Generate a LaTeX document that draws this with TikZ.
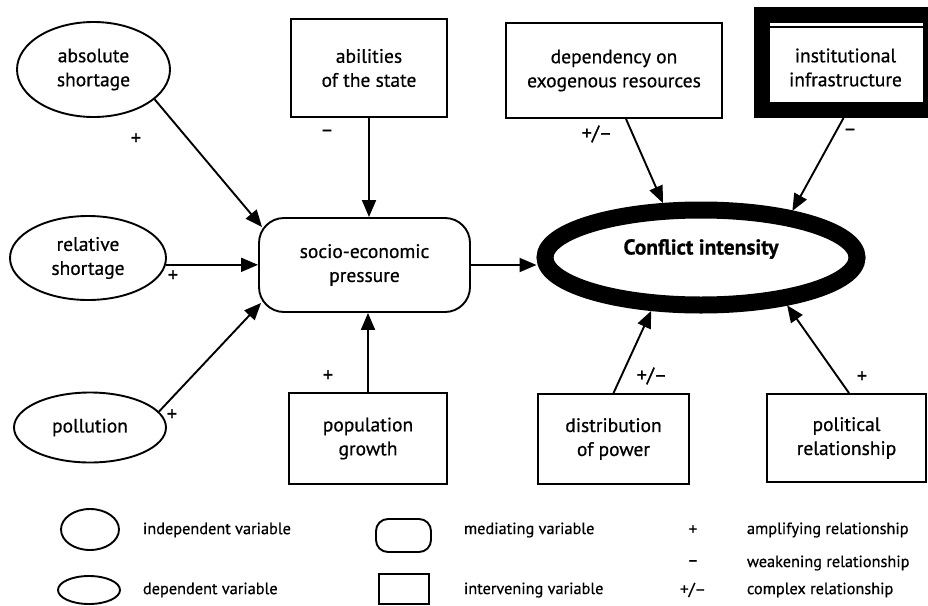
\documentclass[tikz,border=0pt]{standalone}
\usepackage{fontspec}
\setmainfont{PT Sans}[FakeBold=0.6]
\newfontfamily\signfont{PT Sans}[FakeBold=1.2]
\usetikzlibrary{shapes.geometric,arrows.meta,calc}
\begin{document}
\begin{tikzpicture}[x=1pt,y=-1pt,
  line width=1.9pt,
  every node/.style={font=\fontsize{19.5}{24}\selectfont, align=center},
  indep/.style={draw, ellipse, inner sep=0pt},
  interv/.style={draw, rectangle, inner sep=0pt},
  mediat/.style={draw, rectangle, rounded corners=25pt, inner sep=0pt},
  depvar/.style={draw, ellipse, line width=17pt, inner sep=0pt, font=\fontsize{21.5}{24}\selectfont\bfseries},
  link/.style={-{Triangle[length=17pt,width=14pt]}, line width=1.9pt},
  sign/.style={font=\signfont\fontsize{20}{22}\selectfont, inner sep=0pt},
  legsign/.style={font=\signfont\fontsize{17}{20}\selectfont, inner sep=0pt},
  legtext/.style={anchor=west, font=\fontsize{16.3}{18}\selectfont, inner sep=0pt},
]
\path[fill=white] (0,0) rectangle (928,605);
\useasboundingbox (0,0) rectangle (928,605);

% independent variables
\node[indep, minimum width=153pt, minimum height=95pt] (abs) at (93.5,69.5) {absolute\\shortage};
\node[indep, minimum width=156pt, minimum height=84pt] (rel) at (88,258) {relative\\shortage};
\node[indep, minimum width=152pt, minimum height=70pt] (poll) at (90,427.5) {pollution};

% mediating variable
\node[mediat, minimum width=211pt, minimum height=94pt] (socio) at (364.5,265) {socio-economic\\pressure};

% intervening variables
\node[interv, minimum width=156pt, minimum height=98pt] (abil) at (369,68) {abilities\\of the state};
\node[interv, minimum width=158pt, minimum height=91pt] (pop) at (368,438.5) {population\\growth};
\node[interv, minimum width=216pt, minimum height=95pt] (dep) at (614,70.5) {dependency on\\exogenous resources};
\node[interv, line width=16pt, minimum width=169pt, minimum height=95pt] (inst) at (846.5,62.5) {};
\draw[line width=2pt] ($(inst.north west)+(16,20)$) -- ($(inst.north east)+(-16,20)$);
\node (insttext) at ($(inst.center)+(-1,5)$) {institutional\\infrastructure};
\node[interv, minimum width=151pt, minimum height=90pt] (dist) at (613.5,439) {distribution\\of power};
\node[interv, minimum width=159pt, minimum height=88pt] (polr) at (846.5,438) {political\\relationship};

% dependent variable
\node[depvar, minimum width=312pt, minimum height=95pt] (conf) at (701,257.5) {\raisebox{3pt}[0pt][0pt]{Conflict intensity}};

% relationships
\draw[link] (abs.334) -- ($(socio.north west)+(4,10)$);
\draw[link] (abil.south) -- (abil.south |- socio.north);
\draw[link] (rel.355) -- (rel.355 -| socio.west);
\draw[link] (poll.13) -- ($(socio.south west)+(3,-10)$);
\draw[link] (pop.north) -- (pop.north |- socio.south);
\draw[link] (socio.east) -- (socio.east -| conf.west);
\draw[link] ($(dep.south)+(12,0)$) -- (conf.125);
\draw[link] ($(inst.south)+(-3,0)$) -- (conf.27);
\draw[link] (dist.north) -- (conf.227.5);
\draw[link] ($(polr.north)+(2.5,0)$) -- (conf.331);

% signs of the relationships
\node[sign] (s1) at (136,139) {+};
\node[sign] (s2) at (327,133) {–};
\node[sign] (s3) at (173,276) {+};
\node[sign] (s4) at (172,415) {+};
\node[sign] (s5) at (328,376) {+};
\node[sign] (s6) at (597,134) {+/–};
\node[sign] (s7) at (850,132) {–};
\node[sign] (s8) at (652,376) {+/–};
\node[sign] (s9) at (862,377) {+};

% legend
\node[indep, minimum width=58pt, minimum height=41pt] (lg1) at (90,529.5) {};
\node[legtext] (lt1) at (142,530) {independent variable};
\node[indep, minimum width=62pt, minimum height=28pt] (lg2) at (89,590) {};
\node[legtext] (lt2) at (142,590) {dependent variable};
\node[mediat, rounded corners=12pt, minimum width=55pt, minimum height=33pt] (lg3) at (403.5,535.5) {};
\node[legtext] (lt3) at (463,530) {mediating variable};
\node[interv, minimum width=50pt, minimum height=30pt] (lg4) at (404,589) {};
\node[legtext] (lt4) at (463,590) {intervening variable};
\node[legsign] (ls1) at (693,530) {+};
\node[legsign] (ls2) at (693,563) {–};
\node[legsign] (ls3) at (693,590) {+/–};
\node[legtext] (lt5) at (746,530) {amplifying relationship};
\node[legtext] (lt6) at (746,563) {weakening relationship};
\node[legtext] (lt7) at (746,590) {complex relationship};
\end{tikzpicture}
\end{document}
